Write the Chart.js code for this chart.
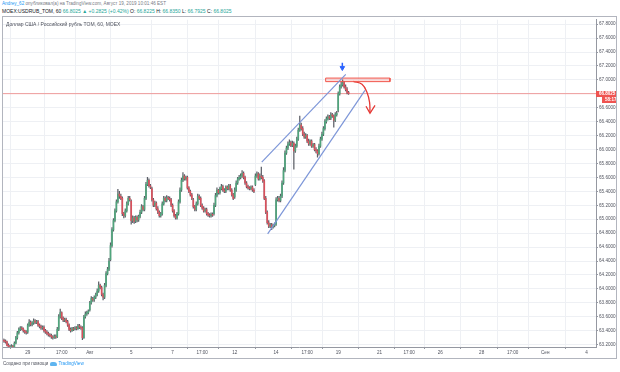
<!DOCTYPE html>
<html>
<head>
<meta charset="utf-8">
<script src="https://cdn.jsdelivr.net/npm/chart.js@4.4.0/dist/chart.umd.min.js"></script>
<style>
  body { margin:0; width:620px; height:372px; background:#fff; position:relative; overflow:hidden; font-family:"Liberation Sans", Arial, sans-serif; }
  .txt { position:absolute; white-space:nowrap; }
  #h1 { left:2px; top:1px; font-size:4.6px; color:#787b86; }
  #h1 b { color:#2196f3; font-weight:normal; }
  #h2 { left:2px; top:7.5px; font-size:5px; color:#131722; }
  #h2 .g { color:#26a69a; }
  #title { left:6px; top:21px; font-size:5px; color:#50535e; }
  #foot { left:3px; top:361px; font-size:4.6px; color:#50535e; }
  #foot .tv { color:#2196f3; }
  #foot .logo { display:inline-block; width:7px; height:4px; background:#5fb5f0; border-radius:2px 3px 1px 1px; margin:0 1px 0 2px; vertical-align:middle; }
  #wrap { position:absolute; left:2px; top:16px; width:615px; height:343px; }
  #frame { position:absolute; left:2px; top:16px; width:615px; height:343px; border:1px solid #b2b5be; box-sizing:border-box; pointer-events:none; }
</style>
</head>
<body>
<div class="txt" id="h1"><b>Andrey_62</b> опубликовал(а) на TradingView.com, Август 19, 2019 10:01:46 EST</div>
<div class="txt" id="h2">MOEX:USDRUB_TOM, 60 <span class="g">66.8025 ▲ +0.2825 (+0.42%)</span> O: <span class="g">66.8225</span> H: <span class="g">66.8350</span> L: <span class="g">66.7925</span> C: <span class="g">66.8025</span></div>
<div id="wrap"><canvas id="chart"></canvas></div>
<div id="frame"></div>
<div class="txt" id="title">Доллар США / Российский рубль TOM, 60, MOEX</div>
<div class="txt" id="foot">Создано при помощи<span class="logo"></span><span class="tv">TradingView</span></div>

<script>
// hourly bars, first bar index -17 (Jul 25 late), index 0 = Jul 29 10:00, 14 bars per day
const firstIndex = -17;

const opens = [
  63.27, 63.26, 63.25,
  63.24, 63.19, 63.17, 63.16, 63.18, 63.17, 63.22, 63.30, 63.37, 63.42, 63.44, 63.43, 63.40, 63.38,
  63.38, 63.48, 63.52, 63.49, 63.51, 63.54, 63.52, 63.53, 63.48, 63.46, 63.44, 63.45, 63.40, 63.38,
  63.36, 63.34, 63.33, 63.31, 63.30, 63.32, 63.31, 63.42, 63.60, 63.66, 63.58, 63.55, 63.56, 63.53,
  63.48, 63.42, 63.40, 63.43, 63.42, 63.44, 63.43, 63.47, 63.45, 63.44, 63.30, 63.60, 63.64, 63.66,
  63.70, 63.80, 63.86, 63.84, 63.88, 63.92, 63.97, 64.05, 64.02, 63.92, 63.88, 64.05, 64.22, 64.28,
  64.42, 64.62, 64.85, 64.98, 65.12, 65.25, 65.36, 65.33, 65.30, 65.08, 65.05, 65.12, 65.22, 65.30,
  65.26, 64.98, 65.02, 64.97, 65.03, 64.99, 65.04, 65.10, 65.18, 65.14, 65.30, 65.50, 65.56, 65.48,
  65.44, 65.28, 65.20, 65.23, 65.15, 65.10, 65.05, 65.08, 65.22, 65.30, 65.27, 65.31, 65.30, 65.28,
  65.20, 65.12, 65.05, 65.02, 65.08, 65.25, 65.42, 65.56, 65.62, 65.58, 65.60, 65.45, 65.40, 65.35,
  65.28, 65.18, 65.14, 65.22, 65.33, 65.30, 65.20, 65.16, 65.12, 65.14, 65.08, 65.06, 65.05, 65.07,
  65.08, 65.20, 65.34, 65.42, 65.38, 65.44, 65.47, 65.42, 65.40, 65.46, 65.44, 65.48, 65.42, 65.35,
  65.32, 65.42, 65.52, 65.58, 65.60, 65.62, 65.66, 65.60, 65.52, 65.47, 65.45, 65.44, 65.46, 65.42,
  65.50, 65.62, 65.65, 65.58, 65.62, 65.60, 65.55, 65.30, 65.10, 64.95, 64.90, 64.92, 64.89, 64.91,
  64.93, 65.28, 65.30, 65.27, 65.33, 65.52, 65.70, 65.95, 66.02, 66.08, 66.10, 66.06, 66.09, 65.98,
  66.05, 66.15, 66.28, 66.35, 66.30, 66.22, 66.18, 66.20, 66.12, 66.08, 66.12, 66.05, 66.07, 66.00,
  65.98, 65.94, 66.05, 66.15, 66.22, 66.30, 66.40, 66.44, 66.47, 66.45, 66.50, 66.48, 66.42, 66.50,
  66.56, 66.80, 66.90, 66.93, 66.96, 66.90, 66.86, 66.8225
];
const highs = [
  63.29, 63.28, 63.27,
  63.25, 63.21, 63.19, 63.20, 63.19, 63.24, 63.32, 63.39, 63.44, 63.46, 63.46, 63.44, 63.41, 63.40,
  63.50, 63.56, 63.54, 63.53, 63.57, 63.56, 63.55, 63.55, 63.50, 63.48, 63.47, 63.47, 63.42, 63.40,
  63.38, 63.36, 63.35, 63.33, 63.34, 63.34, 63.45, 63.63, 63.71, 63.67, 63.60, 63.58, 63.58, 63.55,
  63.50, 63.44, 63.45, 63.45, 63.46, 63.46, 63.49, 63.49, 63.47, 63.46, 63.62, 63.67, 63.68, 63.70,
  63.82, 63.89, 63.88, 63.90, 63.94, 64.00, 64.10, 64.07, 64.04, 63.94, 64.08, 64.25, 64.31, 64.44,
  64.66, 64.88, 65.01, 65.15, 65.28, 65.43, 65.40, 65.36, 65.32, 65.10, 65.15, 65.25, 65.33, 65.33,
  65.28, 65.05, 65.04, 65.05, 65.05, 65.06, 65.13, 65.21, 65.20, 65.33, 65.53, 65.60, 65.58, 65.50,
  65.46, 65.30, 65.26, 65.25, 65.18, 65.12, 65.10, 65.25, 65.33, 65.32, 65.34, 65.33, 65.32, 65.30,
  65.22, 65.14, 65.07, 65.10, 65.28, 65.45, 65.59, 65.67, 65.64, 65.62, 65.62, 65.47, 65.42, 65.37,
  65.30, 65.20, 65.25, 65.36, 65.35, 65.32, 65.22, 65.18, 65.16, 65.16, 65.10, 65.08, 65.09, 65.09,
  65.23, 65.37, 65.45, 65.43, 65.46, 65.50, 65.49, 65.44, 65.48, 65.48, 65.50, 65.50, 65.44, 65.37,
  65.45, 65.55, 65.60, 65.63, 65.65, 65.70, 65.68, 65.62, 65.54, 65.49, 65.47, 65.48, 65.48, 65.44,
  65.65, 65.68, 65.67, 65.65, 65.75, 65.63, 65.57, 65.33, 65.12, 64.98, 64.94, 64.94, 64.93, 64.95,
  65.31, 65.33, 65.33, 65.36, 65.55, 65.74, 65.98, 66.05, 66.11, 66.14, 66.12, 66.12, 66.11, 66.08,
  66.18, 66.31, 66.48, 66.38, 66.33, 66.25, 66.23, 66.22, 66.15, 66.14, 66.14, 66.09, 66.09, 66.03,
  66.00, 66.08, 66.18, 66.25, 66.33, 66.43, 66.47, 66.50, 66.49, 66.53, 66.52, 66.50, 66.53, 66.55,
  66.83, 66.93, 66.97, 67.00, 66.98, 66.93, 66.89, 66.835
];
const lows = [
  63.24, 63.23, 63.22,
  63.18, 63.15, 63.14, 63.14, 63.15, 63.16, 63.21, 63.28, 63.35, 63.40, 63.41, 63.38, 63.36, 63.35,
  63.36, 63.46, 63.47, 63.47, 63.49, 63.50, 63.50, 63.46, 63.44, 63.42, 63.42, 63.38, 63.36, 63.34,
  63.32, 63.31, 63.29, 63.28, 63.29, 63.29, 63.30, 63.40, 63.58, 63.56, 63.53, 63.53, 63.51, 63.46,
  63.40, 63.38, 63.39, 63.40, 63.41, 63.41, 63.42, 63.43, 63.42, 63.27, 63.29, 63.58, 63.62, 63.64,
  63.68, 63.78, 63.82, 63.82, 63.86, 63.90, 63.95, 64.00, 63.90, 63.84, 63.86, 64.03, 64.20, 64.26,
  64.40, 64.60, 64.83, 64.96, 65.10, 65.23, 65.30, 65.28, 65.05, 65.02, 65.03, 65.10, 65.20, 65.26,
  64.93, 64.95, 64.94, 64.95, 64.96, 64.97, 65.02, 65.08, 65.12, 65.12, 65.28, 65.48, 65.46, 65.44,
  65.26, 65.18, 65.18, 65.13, 65.08, 65.03, 65.03, 65.06, 65.20, 65.25, 65.25, 65.28, 65.26, 65.18,
  65.10, 65.03, 65.00, 65.00, 65.06, 65.23, 65.40, 65.54, 65.56, 65.56, 65.43, 65.38, 65.33, 65.28,
  65.16, 65.12, 65.12, 65.20, 65.28, 65.18, 65.14, 65.10, 65.10, 65.06, 65.04, 65.03, 65.03, 65.04,
  65.06, 65.18, 65.32, 65.36, 65.36, 65.42, 65.40, 65.38, 65.38, 65.42, 65.42, 65.40, 65.33, 65.28,
  65.30, 65.40, 65.50, 65.56, 65.58, 65.60, 65.58, 65.50, 65.45, 65.43, 65.42, 65.42, 65.40, 65.38,
  65.48, 65.60, 65.56, 65.56, 65.58, 65.53, 65.28, 65.08, 64.93, 64.88, 64.88, 64.85, 64.87, 64.89,
  64.91, 65.26, 65.25, 65.25, 65.31, 65.50, 65.68, 65.93, 66.00, 66.06, 66.04, 66.04, 65.72, 65.96,
  66.03, 66.13, 66.26, 66.28, 66.20, 66.16, 66.16, 66.10, 66.06, 66.06, 66.03, 66.03, 65.98, 65.95,
  65.89, 65.92, 66.03, 66.13, 66.20, 66.28, 66.38, 66.42, 66.43, 66.43, 66.46, 66.32, 66.40, 66.48,
  66.54, 66.78, 66.88, 66.91, 66.88, 66.84, 66.80, 66.7925
];
const closes = [
  63.26, 63.25, 63.24,
  63.19, 63.17, 63.16, 63.18, 63.17, 63.22, 63.30, 63.37, 63.42, 63.44, 63.43, 63.40, 63.38, 63.37,
  63.48, 63.52, 63.49, 63.51, 63.54, 63.52, 63.53, 63.48, 63.46, 63.44, 63.45, 63.40, 63.38, 63.36,
  63.34, 63.33, 63.31, 63.30, 63.32, 63.31, 63.42, 63.60, 63.66, 63.58, 63.55, 63.56, 63.53, 63.48,
  63.42, 63.40, 63.43, 63.42, 63.44, 63.43, 63.47, 63.45, 63.44, 63.30, 63.60, 63.64, 63.66, 63.68,
  63.80, 63.86, 63.84, 63.88, 63.92, 63.97, 64.05, 64.02, 63.92, 63.88, 64.05, 64.22, 64.28, 64.40,
  64.62, 64.85, 64.98, 65.12, 65.25, 65.36, 65.33, 65.30, 65.08, 65.05, 65.12, 65.22, 65.30, 65.28,
  64.98, 65.02, 64.97, 65.03, 64.99, 65.04, 65.10, 65.18, 65.14, 65.30, 65.50, 65.56, 65.48, 65.46,
  65.28, 65.20, 65.23, 65.15, 65.10, 65.05, 65.08, 65.22, 65.30, 65.27, 65.31, 65.30, 65.28, 65.20,
  65.12, 65.05, 65.02, 65.08, 65.25, 65.42, 65.56, 65.62, 65.58, 65.60, 65.45, 65.40, 65.35, 65.30,
  65.18, 65.14, 65.22, 65.33, 65.30, 65.20, 65.16, 65.12, 65.14, 65.08, 65.06, 65.05, 65.07, 65.06,
  65.20, 65.34, 65.42, 65.38, 65.44, 65.47, 65.42, 65.40, 65.46, 65.44, 65.48, 65.42, 65.35, 65.30,
  65.42, 65.52, 65.58, 65.60, 65.62, 65.66, 65.60, 65.52, 65.47, 65.45, 65.44, 65.46, 65.42, 65.40,
  65.62, 65.65, 65.58, 65.62, 65.60, 65.55, 65.30, 65.10, 64.95, 64.90, 64.92, 64.89, 64.91, 64.93,
  65.28, 65.30, 65.27, 65.33, 65.52, 65.70, 65.95, 66.02, 66.08, 66.10, 66.06, 66.09, 65.98, 66.05,
  66.15, 66.28, 66.35, 66.30, 66.22, 66.18, 66.20, 66.12, 66.08, 66.12, 66.05, 66.07, 66.00, 65.98,
  65.94, 66.05, 66.15, 66.22, 66.30, 66.40, 66.44, 66.47, 66.45, 66.50, 66.48, 66.42, 66.50, 66.52,
  66.80, 66.90, 66.93, 66.96, 66.90, 66.86, 66.82, 66.8025
];

// time axis (bar index -> label)
const timeTicks  = [0, 23, 42, 70, 98, 118, 140, 168, 189, 210, 238, 258, 279, 307, 328, 350, 378];
const timeLabels = ['29', '17:00', 'Авг', '5', '7', '17:00', '12', '14', '17:00', '19', '21', '17:00', '26', '28', '17:00', 'Сен', '4'];
const priceTicks = [63.2, 63.4, 63.6, 63.8, 64.0, 64.2, 64.4, 64.6, 64.8, 65.0, 65.2, 65.4, 65.6, 65.8,
                    66.0, 66.2, 66.4, 66.6, 66.8, 67.0, 67.2, 67.4, 67.6, 67.8];
const lastPrice = 66.8025;
const countdown = '58:17';

// drawings on the chart (bar index, price)
const channelTop    = [{x: 158.3, y: 65.82}, {x: 215.1, y: 67.08}];
const channelBottom = [{x: 162.3, y: 64.79}, {x: 228.1, y: 66.85}];
const zoneTop    = [{x: 201.5, y: 67.026}, {x: 245.0, y: 67.026}];
const zoneBottom = [{x: 201.5, y: 66.975}, {x: 245.0, y: 66.975}];
const zoneOutline = [{x: 201.5, y: 66.975}, {x: 201.5, y: 67.026}, {x: 245.0, y: 67.026}, {x: 245.0, y: 66.975}, {x: 201.5, y: 66.975}];
const arrowCurve = [{x: 220.2, y: 66.979}, {x: 226.1, y: 66.936}, {x: 229.5, y: 66.82}, {x: 231.2, y: 66.68}, {x: 231.5, y: 66.535}];
const arrowHead  = [{x: 228.8, y: 66.621}, {x: 231.5, y: 66.52}, {x: 234.9, y: 66.635}];
const markerStem = [{x: 212.8, y: 67.245}, {x: 212.8, y: 67.195}];
const markerTip  = [{x: 212.8, y: 67.172}];

const upColor = '#4fa57c';
const downColor = '#d9505c';
const wickColor = '#5d6068';

const bodies = [], wicks = [], bodyColors = [];
closes.forEach((c, k) => {
  const x = firstIndex + k;
  bodies.push({x: x, y: [opens[k], c]});
  wicks.push({x: x, y: [lows[k], highs[k]]});
  bodyColors.push(c >= opens[k] ? upColor : downColor);
});

const priceTag = {
  id: 'priceTag',
  afterDraw(chart) {
    const ctx = chart.ctx;
    const area = chart.chartArea;
    const py = Math.round(chart.scales.y.getPixelForValue(lastPrice));
    ctx.save();
    ctx.fillStyle = '#ef5350';
    ctx.fillRect(area.right, py - 3, 21, 6);
    ctx.fillRect(area.right + 6, py + 3, 15, 6);
    ctx.fillStyle = '#ffffff';
    ctx.font = 'bold 4.5px "Liberation Sans", Arial';
    ctx.textBaseline = 'middle';
    ctx.fillText(lastPrice.toFixed(4), area.right + 3, py);
    ctx.fillText(countdown, area.right + 9, py + 6);
    ctx.restore();
  }
};

const lineBase = {type: 'line', pointRadius: 0, fill: false, tension: 0};

new Chart(document.getElementById('chart'), {
  type: 'bar',
  data: {
    datasets: [
      Object.assign({}, lineBase, {data: channelTop, borderColor: '#7d96d8', borderWidth: 1.2, order: 0}),
      Object.assign({}, lineBase, {data: channelBottom, borderColor: '#7d96d8', borderWidth: 1.2, order: 0}),
      Object.assign({}, lineBase, {data: zoneTop, borderWidth: 0, borderColor: 'rgba(0,0,0,0)', order: 0}),
      Object.assign({}, lineBase, {data: zoneBottom, borderWidth: 0, borderColor: 'rgba(0,0,0,0)', fill: '-1', backgroundColor: 'rgba(244,67,54,0.18)', order: 0}),
      Object.assign({}, lineBase, {data: zoneOutline, borderColor: '#f05a50', borderWidth: 1, order: 0}),
      Object.assign({}, lineBase, {data: arrowCurve, borderColor: '#e53935', borderWidth: 1.3, tension: 0.4, order: 0}),
      Object.assign({}, lineBase, {data: arrowHead, borderColor: '#e53935', borderWidth: 1.3, order: 0}),
      Object.assign({}, lineBase, {data: markerStem, borderColor: '#2962ff', borderWidth: 1.5, order: 0}),
      Object.assign({}, lineBase, {data: markerTip, showLine: false, pointRadius: 2.6, pointStyle: 'triangle', rotation: 180,
        pointBackgroundColor: '#2962ff', pointBorderColor: '#2962ff', order: 0}),
      {type: 'bar', data: bodies, backgroundColor: bodyColors, barThickness: 1, minBarLength: 0.6, grouped: false, order: 1},
      {type: 'bar', data: wicks, backgroundColor: wickColor, barThickness: 0.6, grouped: false, order: 2},
      Object.assign({}, lineBase, {data: [{x: -17.38, y: lastPrice}, {x: 384.35, y: lastPrice}],
        borderColor: 'rgba(239,83,80,0.55)', borderWidth: 1, order: 3})
    ]
  },
  options: {
    responsive: true,
    maintainAspectRatio: false,
    animation: false,
    events: [],
    layout: {padding: 0, autoPadding: false},
    plugins: {legend: {display: false}, tooltip: {enabled: false}},
    scales: {
      x: {
        type: 'linear',
        min: -17.38,
        max: 384.35,
        offset: false,
        afterBuildTicks: scale => { scale.ticks = timeTicks.map(v => ({value: v})); },
        afterFit: scale => { scale.height = 12; },
        grid: {color: '#eef0f4', tickColor: '#9598a1', tickLength: 2},
        border: {color: '#9598a1'},
        ticks: {
          autoSkip: false, maxRotation: 0, padding: 1,
          color: '#50535e', font: {size: 4.6, family: '"Liberation Sans", Arial'},
          callback: v => timeLabels[timeTicks.indexOf(v)]
        }
      },
      y: {
        position: 'right',
        min: 63.166,
        max: 67.863,
        afterBuildTicks: scale => { scale.ticks = priceTicks.map(v => ({value: v})); },
        afterFit: scale => { scale.width = 21; },
        grid: {color: '#eef0f4', tickColor: '#9598a1', tickLength: 2},
        border: {color: '#9598a1'},
        ticks: {
          autoSkip: false, padding: 1,
          color: '#50535e', font: {size: 4.6, family: '"Liberation Sans", Arial'},
          callback: v => Number(v).toFixed(4)
        }
      }
    }
  },
  plugins: [priceTag]
});
</script>
</body>
</html>
